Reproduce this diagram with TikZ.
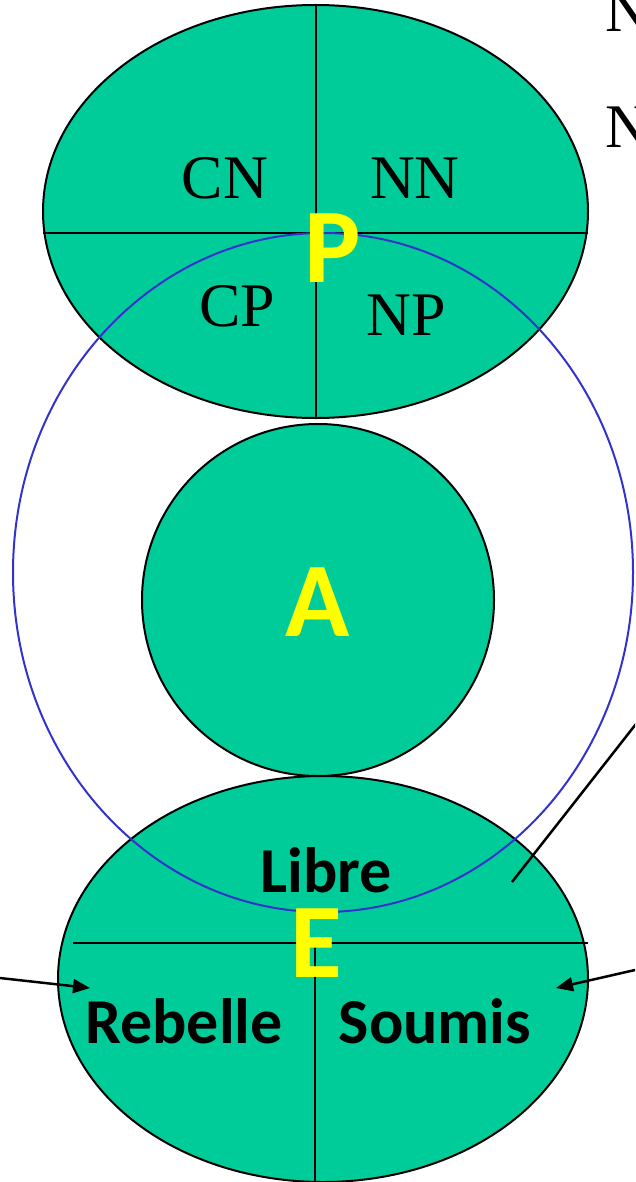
\documentclass[tikz,border=0pt]{standalone}
\usepackage{fontspec}
\setmainfont{Liberation Serif}
\newfontfamily\carlito{Carlito}
\usetikzlibrary{shapes.geometric,arrows.meta}
\definecolor{zone}{HTML}{00CC99}
\definecolor{ring}{HTML}{3333CC}
\definecolor{mark}{HTML}{FFFF00}
\tikzset{
  region/.style={ellipse, draw=black, line width=2pt, fill=zone, inner sep=0pt, outer sep=0pt},
  divider/.style={draw=black, line width=1.8pt},
  quad/.style={font=\fontsize{62}{70}\selectfont, anchor=base, inner sep=0pt},
  tag/.style={font=\carlito\bfseries\fontsize{64}{72}\selectfont, anchor=base, inner sep=0pt},
  letter/.style={font=\carlito\bfseries\fontsize{106}{110}\selectfont, text=mark, anchor=base, inner sep=0pt},
  pointer/.style={draw=black, line width=2.5pt, -{Triangle[length=17pt,width=14pt]}},
  leader/.style={draw=black, line width=2.5pt}
}
\begin{document}
\begin{tikzpicture}[x=1pt,y=-1pt]
\useasboundingbox (0,0) rectangle (635,1182);
\clip (0,0) rectangle (635,1182);

% upper region, split in four quadrants
\node[region, minimum width=545pt, minimum height=413pt] (upper) at (315.5,211.5) {};
\draw[divider] (upper.west |- 0,233) -- (upper.east |- 0,233);
\draw[divider] (316,0 |- upper.north) -- (316,0 |- upper.south);

% lower region, split below
\node[region, minimum width=530pt, minimum height=406pt] (lower) at (323,979) {};
\coordinate (lowerL) at (73,943);
\coordinate (lowerR) at (588,943);
\draw[divider] (lowerL) -- (lowerR);
\draw[divider] (315,943) -- (315,0 |- lower.south);

% central disc
\node[circle, draw=black, line width=2pt, fill=zone, inner sep=0pt, minimum size=352pt] (core) at (318,600) {};

% enclosing ring
\node[ellipse, draw=ring, line width=2pt, inner sep=0pt, minimum width=620pt, minimum height=679pt] (ring) at (323,572.5) {};

% quadrant labels
\node[quad] (cn) at (225,199) {CN};
\node[quad] (nn) at (415,199) {NN};
\node[quad] (cp) at (237,326) {CP};
\node[quad] (np) at (406,335) {NP};

% side labels, partly outside the frame
\node[quad, anchor=base west] (n1) at (605,32) {N};
\node[quad, anchor=base west] (n2) at (605,148) {N};

% region letters
\node[letter] (p) at (333,282) {P};
\node[letter] (a) at (318,636) {A};
\node[letter] (e) at (316,977) {E};

% lower region labels
\node[tag] (libre) at (326,892) {Libre};
\node[tag] (rebelle) at (184,1043) {Rebelle};
\node[tag] (soumis) at (435,1043) {Soumis};

% connectors
\coordinate (leftIn) at (0,978);
\coordinate (leftTip) at (90,988);
\coordinate (rightIn) at (635,970);
\coordinate (rightTip) at (556,988);
\coordinate (leadOut) at (643,715);
\coordinate (leadEnd) at (512,882);
\draw[pointer] (leftIn) -- (leftTip);
\draw[pointer] (rightIn) -- (rightTip);
\draw[leader] (leadOut) -- (leadEnd);
\end{tikzpicture}
\end{document}
